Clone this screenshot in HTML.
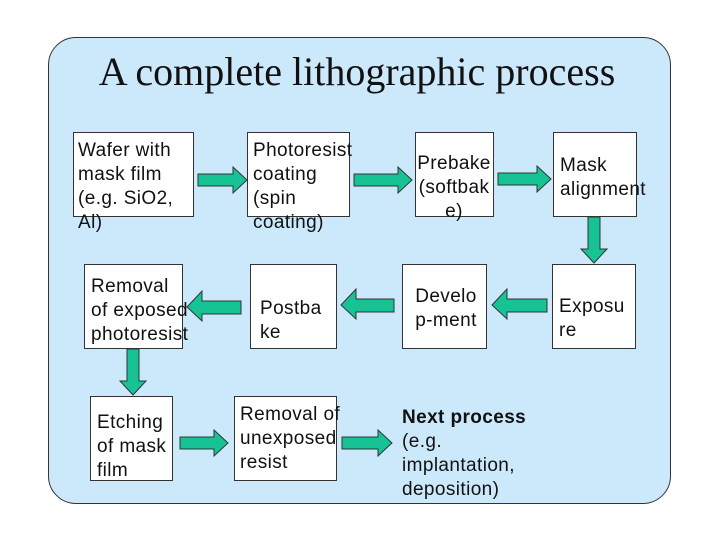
<!DOCTYPE html>
<html><head><meta charset="utf-8"><style>
body{margin:0;width:720px;height:540px;background:#fff;position:relative;overflow:hidden;font-family:"Liberation Sans",Arial,sans-serif;}
.panel{position:absolute;left:48px;top:37px;width:623px;height:467px;background:#cce9fb;border:1px solid #333;border-radius:28px;box-sizing:border-box;}
.title{position:absolute;left:0;width:714px;top:48px;text-align:center;font-family:"Liberation Serif",serif;font-size:40px;color:#111;white-space:nowrap;}
.box{position:absolute;background:#fff;border:1px solid #333;box-sizing:border-box;}
.t{position:absolute;font-size:19px;letter-spacing:0.4px;line-height:24px;color:#111;white-space:nowrap;}
svg{position:absolute;left:0;top:0;}
</style></head><body>
<div class="panel"></div>
<div class="title">A complete lithographic process</div>
<div class="box" style="left:73px;top:132px;width:121px;height:85px"></div>
<div class="box" style="left:247px;top:132px;width:103px;height:85px"></div>
<div class="box" style="left:415px;top:132px;width:79px;height:85px"></div>
<div class="box" style="left:553px;top:132px;width:84px;height:85px"></div>
<div class="box" style="left:552px;top:264px;width:84px;height:85px"></div>
<div class="box" style="left:402px;top:264px;width:85px;height:85px"></div>
<div class="box" style="left:250px;top:264px;width:87px;height:85px"></div>
<div class="box" style="left:84px;top:264px;width:99px;height:85px"></div>
<div class="box" style="left:90px;top:396px;width:83px;height:85px"></div>
<div class="box" style="left:234px;top:396px;width:103px;height:85px"></div>

<div class="t" style="left:78px;top:139px">Wafer with<br>mask film<br>(e.g. SiO2,<br>Al)</div>
<div class="t" style="left:253px;top:139px">Photoresist<br>coating<br>(spin<br>coating)</div>
<div class="t" style="left:404px;width:100px;text-align:center;top:152px">Prebake<br>(softbak<br>e)</div>
<div class="t" style="left:560px;top:154px">Mask<br>alignment</div>
<div class="t" style="left:559px;top:295px">Exposu<br>re</div>
<div class="t" style="left:396px;width:100px;text-align:center;top:285px">Develo<br>p-ment</div>
<div class="t" style="left:260px;top:297px">Postba<br>ke</div>
<div class="t" style="left:91px;top:275px">Removal<br>of exposed<br>photoresist</div>
<div class="t" style="left:97px;top:411px">Etching<br>of mask<br>film</div>
<div class="t" style="left:240px;top:403px">Removal of<br>unexposed<br>resist</div>
<div class="t" style="left:402px;top:406px"><b>Next process</b><br>(e.g.<br>implantation,<br>deposition)</div>

<svg width="720" height="540">
<g fill="#17c295" stroke="#333" stroke-width="1">
<polygon points="198,174 233,174 233,167 247,180 233,193 233,186 198,186"/>
<polygon points="354,174 398,174 398,167 412,180 398,193 398,186 354,186"/>
<polygon points="498,173 537,173 537,166 551,179 537,192 537,185 498,185"/>
<polygon points="588,217 600,217 600,249 607,249 594,263 581,249 588,249"/>
<polygon points="547,299 507,299 507,289 492,305 507,319 507,312 547,312"/>
<polygon points="394,299 356,299 356,289 341,305 356,319 356,312 394,312"/>
<polygon points="241,301 202,301 202,291 187,307 202,321 202,314 241,314"/>
<polygon points="127,349 139,349 139,381 146,381 133,395 120,381 127,381"/>
<polygon points="180,437 214,437 214,430 228,443 214,456 214,449 180,449"/>
<polygon points="342,437 378,437 378,430 392,443 378,456 378,449 342,449"/>
</g>
</svg>
</body></html>
